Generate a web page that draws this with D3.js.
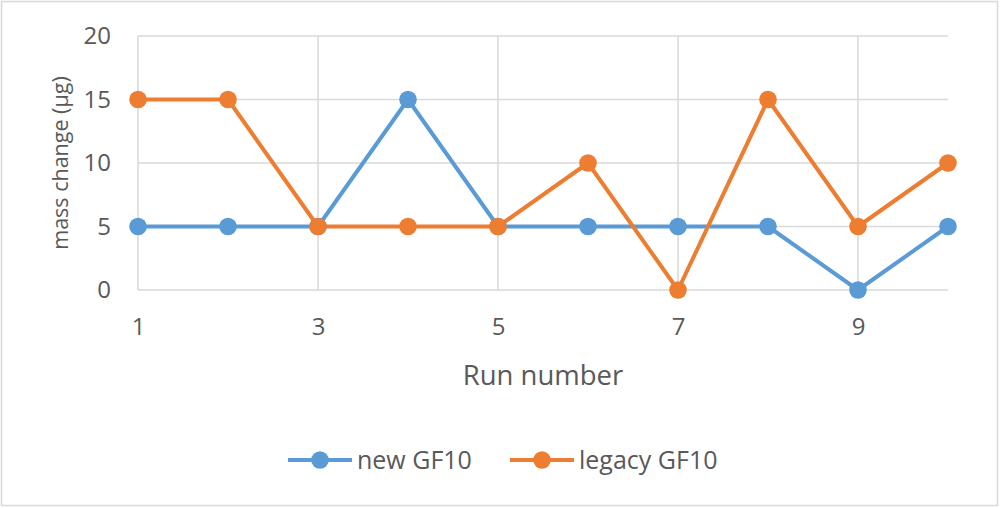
<!DOCTYPE html>
<html><head><meta charset="utf-8">
<script src="https://cdn.jsdelivr.net/npm/d3@7"></script>
<style>body{margin:0;background:#fff}svg{display:block}text{font-family:"Open Sans","Noto Sans",sans-serif;fill:#595959}</style>
</head><body><svg id="c" width="1000" height="508"></svg>
<script>
const runs = [1,2,3,4,5,6,7,8,9,10];
const newGF10 = [5,5,5,15,5,5,5,5,0,5];
const legacyGF10 = [15,15,5,5,5,10,0,15,5,10];
const xTicks = [1,3,5,7,9];
const yTicks = [0,5,10,15,20];
const seriesNames = ["new GF10","legacy GF10"];
const colors = ["#5B9BD5","#ED7D31"];

const svg = d3.select("#c");
svg.append("rect").attr("x",1.5).attr("y",1.5).attr("width",996).attr("height",504)
  .attr("fill","#fff").attr("stroke","#d9d9d9").attr("stroke-width",1.5);

const x = d3.scaleLinear().domain([1,10]).range([138,948]);
const y = d3.scaleLinear().domain([0,20]).range([290,36]);

const g = svg.append("g");
g.selectAll(".hg").data(yTicks).join("line")
  .attr("x1",x(1)).attr("x2",x(10)).attr("y1",d=>y(d)).attr("y2",d=>y(d))
  .attr("stroke","#d9d9d9").attr("stroke-width",1.5);
g.selectAll(".vg").data(xTicks).join("line")
  .attr("x1",d=>x(d)).attr("x2",d=>x(d)).attr("y1",y(0)).attr("y2",y(20))
  .attr("stroke","#d9d9d9").attr("stroke-width",1.5);

const yAxis = d3.axisLeft(y).tickValues(yTicks).tickSize(0).tickPadding(0);
const ya = svg.append("g").attr("transform","translate(111,0)").call(yAxis);
ya.select(".domain").remove();
ya.selectAll("text").attr("font-size",24).attr("fill","#595959").style("font-family",'"Open Sans",sans-serif');

const xAxis = d3.axisBottom(x).tickValues(xTicks).tickSize(0).tickPadding(0);
const xa = svg.append("g").attr("transform","translate(0,318)").call(xAxis);
xa.select(".domain").remove();
xa.selectAll("text").attr("font-size",24).attr("fill","#595959").style("font-family",'"Open Sans",sans-serif');

svg.append("text").attr("x",x(5.5)).attr("y",385).attr("text-anchor","middle")
  .attr("font-size",27.5).text("Run number");
svg.append("text").attr("transform","translate(68,"+y(10)+") rotate(-90)").attr("text-anchor","middle")
  .attr("font-size",21.5).text("mass change (µg)");

const all = [newGF10, legacyGF10];
const line = d3.line().x((d,i)=>x(runs[i])).y(d=>y(d));
all.forEach((s,k)=>{
  svg.append("path").attr("d",line(s)).attr("fill","none").attr("stroke",colors[k])
    .attr("stroke-width",4).attr("stroke-linejoin","round");
});
all.forEach((s,k)=>{
  svg.append("g").selectAll("circle").data(s).join("circle")
    .attr("cx",(d,i)=>x(runs[i])).attr("cy",d=>y(d)).attr("r",8.8).attr("fill",colors[k]);
});

const legX = [288,510];
seriesNames.forEach((n,k)=>{
  const lg = svg.append("g").attr("transform","translate("+legX[k]+",460)");
  lg.append("line").attr("x1",0).attr("x2",64).attr("stroke",colors[k]).attr("stroke-width",4);
  lg.append("circle").attr("cx",32).attr("r",8.8).attr("fill",colors[k]);
  lg.append("text").attr("x",69).attr("y",9).attr("font-size",25).text(n);
});
</script></body></html>
